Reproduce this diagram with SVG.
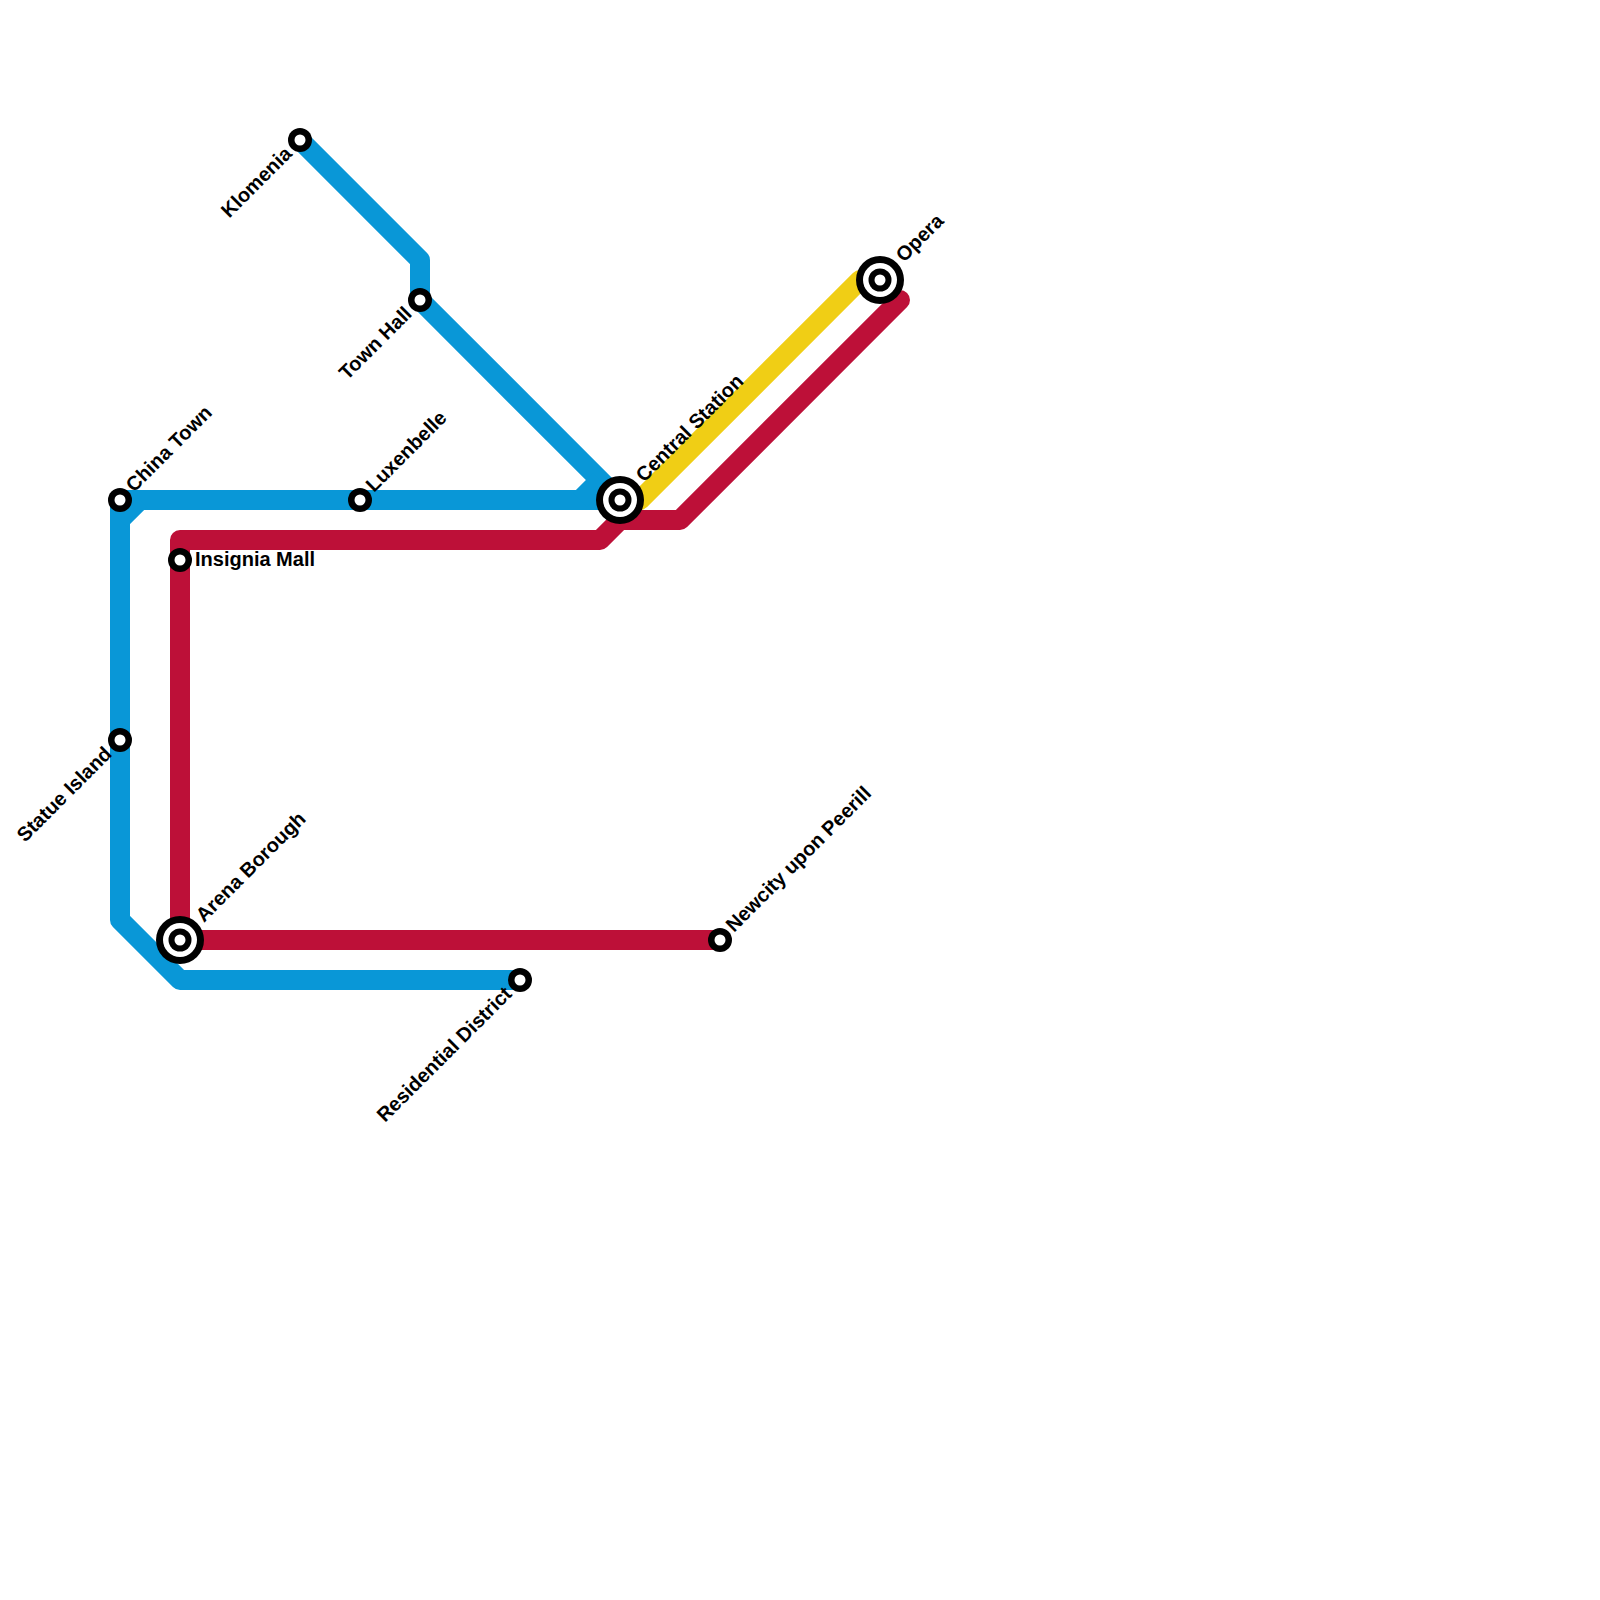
<svg xmlns="http://www.w3.org/2000/svg" width="1600" height="1600" viewBox="0 0 1600 1600">
<style>
.l{fill:none;stroke-width:20;stroke-linejoin:round}
.o{fill:#000}.w{fill:#fff}
text{font-family:"Liberation Sans",Arial,sans-serif;font-weight:bold;font-size:20px;fill:#000}
.e{text-anchor:end}
</style>
<rect width="1600" height="1600" fill="#fff"/>
<g id="connectors">
<path class="l" stroke="#f0ce15" d="M620 500H640L860 280H880"/>
<path class="l" stroke="#bd1038" stroke-linecap="round" d="M900 300L680 520H620L600 540H180V940H720"/>
<path class="l" stroke="#0997d7" d="M300 140L420 260V300L620 500H120V920L180 980H520"/>
<path class="l" stroke="#0997d7" d="M120 520L140 500M600 480L580 500"/>
</g>
<g id="klomenia"><circle class="o" cx="300" cy="140" r="12"/><circle class="w" cx="300" cy="140" r="5.5"/><text class="e" transform="translate(293,155) rotate(-45)">Klomenia</text></g>
<g id="townhall"><circle class="o" cx="420" cy="300" r="12"/><circle class="w" cx="420" cy="300" r="5.5"/><text class="e" transform="translate(413,315) rotate(-45)">Town Hall</text></g>
<g id="chinatown"><circle class="o" cx="120" cy="500" r="12"/><circle class="w" cx="120" cy="500" r="5.5"/><text transform="translate(134,493) rotate(-45)">China Town</text></g>
<g id="luxenbelle"><circle class="o" cx="360" cy="500" r="12"/><circle class="w" cx="360" cy="500" r="5.5"/><text transform="translate(374,493) rotate(-45)">Luxenbelle</text></g>
<g id="statue"><circle class="o" cx="120" cy="740" r="12"/><circle class="w" cx="120" cy="740" r="5.5"/><text class="e" transform="translate(113,755) rotate(-45)">Statue Island</text></g>
<g id="insignia"><circle class="o" cx="180" cy="560" r="12"/><circle class="w" cx="180" cy="560" r="5.5"/><text x="195" y="566">Insignia Mall</text></g>
<g id="newcity"><circle class="o" cx="720" cy="940" r="12"/><circle class="w" cx="720" cy="940" r="5.5"/><text transform="translate(734,933) rotate(-45)">Newcity upon Peerill</text></g>
<g id="residential"><circle class="o" cx="520" cy="980" r="12"/><circle class="w" cx="520" cy="980" r="5.5"/><text class="e" transform="translate(513,995) rotate(-45)">Residential District</text></g>
<g id="central"><circle class="o" cx="620" cy="500" r="24"/><circle class="w" cx="620" cy="500" r="17"/><circle class="o" cx="620" cy="500" r="11.5"/><circle class="w" cx="620" cy="500" r="5.5"/><text transform="translate(644,483) rotate(-45)">Central Station</text></g>
<g id="arena"><circle class="o" cx="180" cy="940" r="24"/><circle class="w" cx="180" cy="940" r="17"/><circle class="o" cx="180" cy="940" r="11.5"/><circle class="w" cx="180" cy="940" r="5.5"/><text transform="translate(204,923) rotate(-45)">Arena Borough</text></g>
<g id="opera"><circle class="o" cx="880" cy="280" r="24"/><circle class="w" cx="880" cy="280" r="17"/><circle class="o" cx="880" cy="280" r="11.5"/><circle class="w" cx="880" cy="280" r="5.5"/><text transform="translate(904,263) rotate(-45)">Opera</text></g>
</svg>
